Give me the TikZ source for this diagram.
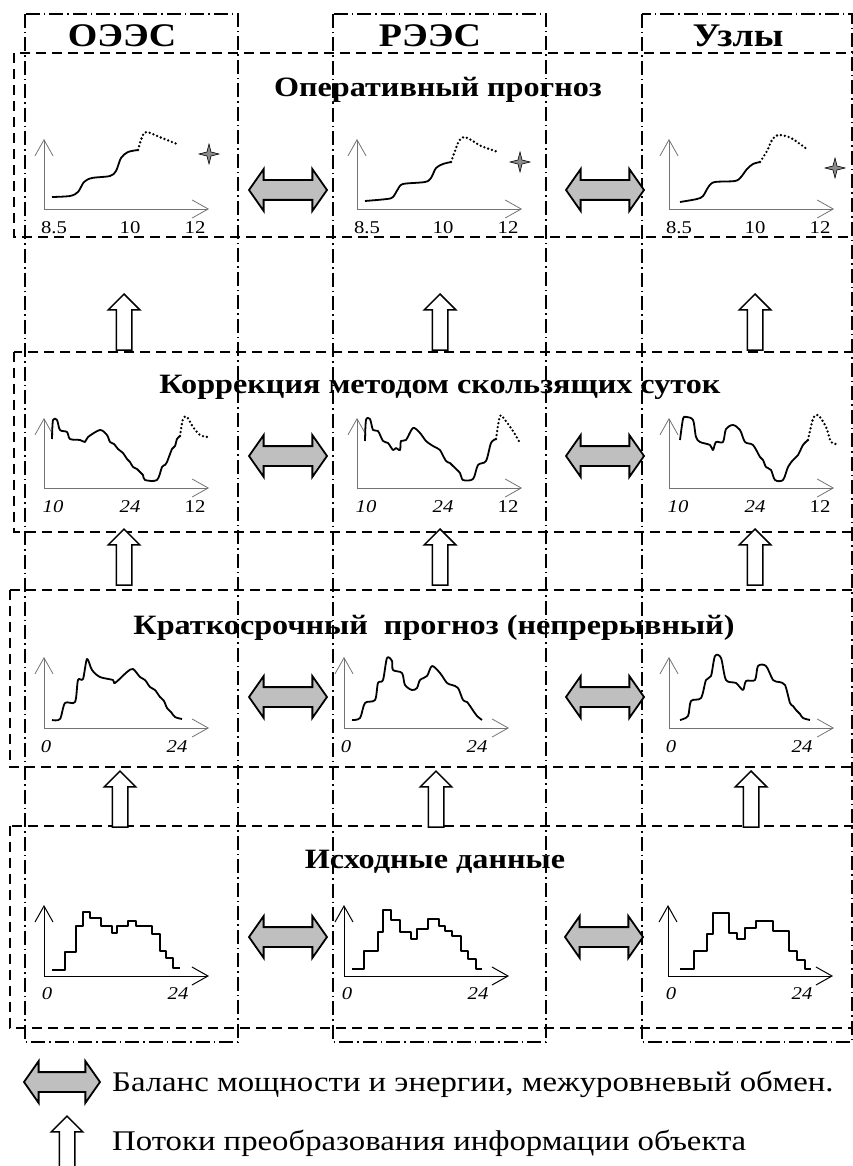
\documentclass[tikz,border=0pt]{standalone}
\usepackage{fontspec}
\setmainfont{Liberation Serif}[FakeStretch=1.15]
\usetikzlibrary{shapes.arrows,shapes.geometric,arrows.meta}
\tikzstyle{colbox} = [draw, line width=1.3pt, dash pattern=on 14pt off 4pt on 1.5pt off 4pt]
\tikzstyle{rowbox} = [draw, line width=2pt, dash pattern=on 10pt off 6pt]
\tikzstyle{head} = [font=\fontsize{33}{33}\selectfont\bfseries, anchor=base, inner sep=0pt]
\tikzstyle{title} = [font=\fontsize{28}{28}\selectfont\bfseries, anchor=base, inner sep=0pt]
\tikzstyle{lbl} = [font=\fontsize{18}{18}\selectfont, anchor=base, inner sep=0pt]
\tikzstyle{legtext} = [font=\fontsize{28.5}{28.5}\selectfont, anchor=base west, inner sep=0pt]
\tikzstyle{axis} = [draw=black!55, line width=0.8pt, -{Straight Barb[length=16pt,width=18pt]}]
\tikzstyle{axisb} = [axis, draw=black, line width=1pt]
\tikzstyle{curve} = [line width=1.8pt, line join=round]
\tikzstyle{fcast} = [line width=2.6pt, line cap=round, dash pattern=on 0pt off 4pt]
\tikzstyle{dbl} = [double arrow, draw, line width=1.8pt, fill=black!25, minimum height=78pt, minimum width=40pt, inner xsep=0pt, inner ysep=9pt, double arrow head extend=11pt, double arrow tip angle=110]
\tikzstyle{upar} = [single arrow, draw, line width=1.5pt, fill=white, shape border rotate=90, minimum height=56pt, minimum width=31pt, inner sep=7pt, single arrow head extend=8pt, single arrow tip angle=90, anchor=tip]
\tikzstyle{spark} = [star, star points=4, star point ratio=3.5, draw, line width=0.6pt, fill=black!45, minimum size=20pt, inner sep=0pt]

\begin{document}
\begin{tikzpicture}[x=1pt, y=-1pt]
\useasboundingbox (0,0) rectangle (853,1166);

% columns and levels
\draw[colbox] (25,14) rectangle (238,1042);
\draw[colbox] (333,14) rectangle (546,1042);
\draw[colbox] (642,14) rectangle (852,1042);
\draw[rowbox] (14,53) rectangle (862,237);
\draw[rowbox] (14,352) rectangle (862,532);
\draw[rowbox] (10,590) rectangle (862,767);
\draw[rowbox] (10,826) rectangle (862,1028);

\node[head] (oees) at (122,47) {ОЭЭС};
\node[head] (rees) at (430,47) {РЭЭС};
\node[head] (uzly) at (738,47) {Узлы};

\node[title] (t1) at (438,97) {Оперативный прогноз};
\node[title] (t2) at (440,393) {Коррекция методом скользящих суток};
\node[title] (t3) at (434,634) {Краткосрочный\ \ прогноз (непрерывный)};
\node[title] (t4) at (435,868) {Исходные данные};

% axes and scale marks
\foreach \ox/\oy [count=\i] in {44/209, 357/209, 669/209} {
  \begin{scope}[shift={(\ox,\oy)}, yscale=-1]
    \draw[axis] (0,0) -- (0,70);
    \draw[axis] (0,0) -- (165,0);
    \node[lbl] (a1\i) at (10,-25) {8.5};
    \node[lbl] (b1\i) at (86,-25) {10};
    \node[lbl] (c1\i) at (151,-25) {12};
  \end{scope}
}
\foreach \ox/\oy [count=\i] in {44/488, 357/488, 669/488} {
  \begin{scope}[shift={(\ox,\oy)}, yscale=-1]
    \draw[axis] (0,0) -- (0,70);
    \draw[axis] (0,0) -- (165,0);
    \node[lbl] (a2\i) at (9,-24) {\itshape 10};
    \node[lbl] (b2\i) at (86,-24) {\itshape 24};
    \node[lbl] (c2\i) at (151,-24) {12};
  \end{scope}
}
\foreach \ox/\oy [count=\i] in {44/728, 344/728, 669/728} {
  \begin{scope}[shift={(\ox,\oy)}, yscale=-1]
    \draw[axis] (0,0) -- (0,71);
    \draw[axis] (0,0) -- (165,0);
    \node[lbl] (a3\i) at (2,-24) {\itshape 0};
    \node[lbl] (b3\i) at (133,-24) {\itshape 24};
  \end{scope}
}
\foreach \ox/\oy [count=\i] in {44/976, 344/976, 668/976} {
  \begin{scope}[shift={(\ox,\oy)}, yscale=-1]
    \draw[axisb] (0,0) -- (0,71);
    \draw[axisb] (0,0) -- (165,0);
    \node[lbl] (a4\i) at (3,-23) {\itshape 0};
    \node[lbl] (b4\i) at (134,-23) {\itshape 24};
  \end{scope}
}

% operative forecast
\begin{scope}[shift={(44,209)}, yscale=-1]
  \draw[curve] plot[smooth] coordinates {(8,12) (26,13) (34,17) (40,27) (48,31) (66,33) (72,38) (77,51) (84,57) (94,59)};
  \draw[fcast] plot[smooth] coordinates {(94,59) (96,66) (99,74) (103,77) (118,71) (133,65)};
\end{scope}
\begin{scope}[shift={(357,209)}, yscale=-1]
  \draw[curve] plot[smooth] coordinates {(8,8) (30,10) (36,12) (41,20) (46,25) (68,27) (74,31) (79,41) (86,45) (94,47)};
  \draw[fcast] plot[smooth] coordinates {(94,47) (98,58) (102,68) (107,72) (116,68) (124,63) (141,57)};
\end{scope}
\begin{scope}[shift={(669,209)}, yscale=-1]
  \draw[curve] plot[smooth] coordinates {(11,7) (28,10) (34,13) (40,23) (46,27) (66,28) (72,32) (78,40) (84,45) (91,47)};
  \draw[fcast] plot[smooth] coordinates {(91,47) (98,58) (103,69) (109,74) (122,71) (139,59)};
\end{scope}
\node[spark] (sp1) at (209,154) {};
\node[spark] (sp2) at (520,162) {};
\node[spark] (sp3) at (835,168) {};

% sliding day correction
\begin{scope}[shift={(44,488)}, yscale=-1]
  \draw[curve] plot[smooth] coordinates {(8,49) (9,68) (13,68) (16,58) (23,56) (26,49) (36,48) (41,46) (44,51) (56,58) (63,53) (66,46) (70,44) (74,39) (79,35) (83,29) (86,26) (89,21) (93,19) (96,16) (99,13) (101,8) (113,8) (118,21) (121,23) (123,26) (128,39) (131,42) (133,49) (136,52)};
  \draw[fcast] plot[smooth] coordinates {(136,52) (139,69) (143,71) (149,61) (156,53) (164,51)};
\end{scope}
\begin{scope}[shift={(357,488)}, yscale=-1]
  \draw[curve] plot[smooth] coordinates {(8,47) (9,68) (13,69) (16,58) (21,57) (26,47) (31,45) (36,38) (39,40) (43,38) (44,47) (49,48) (56,60) (63,55) (69,47) (76,42) (80,40) (83,38) (89,27) (93,25) (96,22) (103,15) (106,8) (116,9) (121,23) (129,27) (134,45) (139,49)};
  \draw[fcast] plot[smooth] coordinates {(139,49) (143,72) (148,68) (156,57) (163,45)};
\end{scope}
\begin{scope}[shift={(669,488)}, yscale=-1]
  \draw[curve] plot[smooth] coordinates {(11,48) (14,69) (17,71) (24,68) (27,51) (31,46) (41,43) (44,38) (47,46) (54,46) (57,59) (64,63) (71,58) (76,46) (84,43) (91,31) (94,28) (97,21) (102,18) (106,8) (114,8) (119,21) (124,28) (129,33) (134,43) (139,48)};
  \draw[fcast] plot[smooth] coordinates {(139,48) (144,69) (149,73) (157,61) (162,46) (167,44)};
\end{scope}

% short-term forecast
\begin{scope}[shift={(44,728)}, yscale=-1]
  \draw[curve] plot[smooth] coordinates {(8,8) (16,9) (21,25) (31,26) (34,48) (39,49) (43,69) (48,58) (56,51) (69,48) (71,45) (83,56) (89,59) (96,51) (101,48) (106,41) (111,38) (116,31) (120,27) (123,20) (127,16) (131,11) (138,9)};
\end{scope}
\begin{scope}[shift={(344,728)}, yscale=-1]
  \draw[curve] plot[smooth] coordinates {(8,8) (16,10) (21,25) (31,28) (34,45) (39,48) (43,70) (48,67) (49,58) (58,55) (61,43) (68,38) (73,40) (76,48) (83,52) (88,62) (96,55) (103,45) (108,43) (114,40) (119,28) (123,26) (126,22) (130,16) (133,12) (138,8)};
\end{scope}
\begin{scope}[shift={(669,728)}, yscale=-1]
  \draw[curve] plot[smooth] coordinates {(11,8) (19,12) (22,27) (32,30) (37,48) (42,52) (46,72) (52,70) (57,48) (67,45) (74,38) (77,47) (86,48) (89,62) (97,62) (104,48) (110,46) (116,43) (121,25) (124,22) (127,18) (131,14) (134,10) (141,8)};
\end{scope}

% source data
\begin{scope}[shift={(44,976)}, yscale=-1]
  \draw[curve] (8,6) -| (21,24) -| (32,50) -| (39,64) -| (46,58) -| (57,50) -| (68,43) -| (73,50) -| (84,55) -| (92,50) -| (108,42) -| (116,25) -| (122,18) -| (129,8) -- (136,8);
\end{scope}
\begin{scope}[shift={(344,976)}, yscale=-1]
  \draw[curve] (8,7) -| (20,25) -| (34,44) -| (39,66) -| (47,56) -| (56,44) -| (67,37) -| (73,47) -| (84,57) -| (95,50) -| (101,45) -| (108,40) -| (117,25) -| (124,17) -| (132,7) -- (138,7);
\end{scope}
\begin{scope}[shift={(668,976)}, yscale=-1]
  \draw[curve] (12,7) -| (26,25) -| (39,42) -| (45,63) -| (61,43) -| (69,37) -| (77,48) -| (88,55) -| (105,45) -| (121,25) -| (129,16) -| (137,7) -- (143,7);
\end{scope}

% exchange between levels
\node[dbl] (x11) at (288,190) {};
\node[dbl] (x12) at (605,190) {};
\node[dbl] (x21) at (288,456) {};
\node[dbl] (x22) at (605,456) {};
\node[dbl] (x31) at (288,697) {};
\node[dbl] (x32) at (605,697) {};
\node[dbl] (x41) at (288,937) {};
\node[dbl] (x42) at (604,937) {};

% information flows
\node[upar] (u11) at (124,293) {};
\node[upar] (u12) at (440,293) {};
\node[upar] (u13) at (755,293) {};
\node[upar] (u21) at (124,528) {};
\node[upar] (u22) at (440,528) {};
\node[upar] (u23) at (755,528) {};
\node[upar] (u31) at (120,770) {};
\node[upar] (u32) at (436,770) {};
\node[upar] (u33) at (751,770) {};

% legend
\node[dbl, minimum height=76pt] (lx) at (62,1082) {};
\node[legtext] (lxt) at (112,1091) {Баланс мощности и энергии, межуровневый обмен.};
\node[upar] (lu) at (67,1115) {};
\node[legtext] (lut) at (112,1150) {Потоки преобразования информации объекта};
\end{tikzpicture}
\end{document}
